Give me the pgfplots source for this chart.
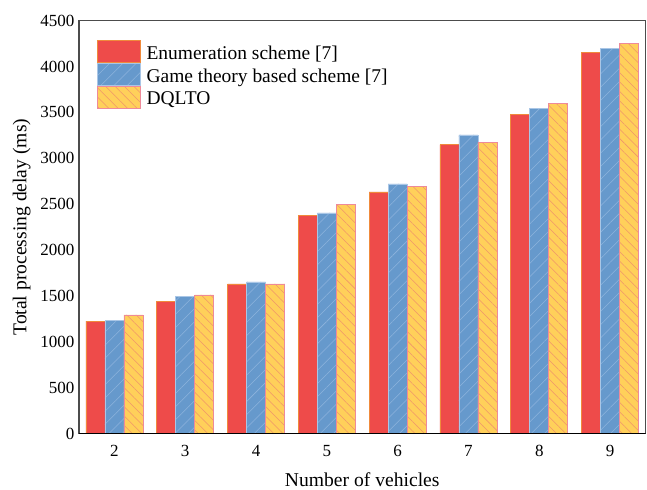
\documentclass[border=0pt]{standalone}
\usepackage{pgfplots}
\pgfplotsset{compat=1.18}
\usepackage{fontspec}
\setmainfont{Liberation Serif}
\usetikzlibrary{patterns.meta}
\definecolor{cred}{HTML}{EE4B4A}
\definecolor{credge}{HTML}{F08A3C}
\definecolor{cblue}{HTML}{6699CC}
\definecolor{cbedge}{HTML}{A9C6E6}
\definecolor{cbline}{HTML}{8DB3DD}
\definecolor{cyel}{HTML}{FFD05A}
\definecolor{cyedge}{HTML}{EE8A9A}
\definecolor{cyline}{HTML}{F0956A}
\pgfplotstableread{
x es gt dq
2 1228 1230 1295
3 1444 1500 1512
4 1632 1654 1632
5 2380 2405 2495
6 2634 2721 2695
7 3148 3254 3174
8 3479 3540 3599
9 4157 4197 4252
}\datatab
\begin{document}
\begin{tikzpicture}
\begin{axis}[
  name=ax,
  scale only axis,
  width=425pt, height=310pt,
  ybar=0pt, bar width=14.25pt,
  xmin=1.5, xmax=9.5, ymin=0, ymax=4500,
  xtick={2,...,9}, ytick={0,500,...,4500},
  major tick length=0pt,
  axis line style={draw=black!70, line width=1pt},
  tick label style={font=\fontsize{12.75}{15}\selectfont},
  xticklabel style={yshift=-5pt},
  /pgf/number format/assume math mode=true,
  /pgf/number format/1000 sep={},
  xlabel={Number of vehicles}, ylabel={Total processing delay (ms)},
  label style={font=\fontsize{14.7}{17}\selectfont},
  xlabel style={at={(axis description cs:0.5,0)}, anchor=north, yshift=-26pt},
  ylabel style={at={(axis description cs:0,0.5)}, anchor=center, yshift=43pt},
  legend style={draw=none, fill=none, at={(rel axis cs:0,1)}, anchor=north west, xshift=13.5pt, yshift=-14.6pt,
    font=\fontsize{14.6}{17}\selectfont, row sep=0.8pt, inner sep=0pt,
    nodes={inner sep=0pt, inner xsep=4.5pt}},
  legend cell align=left,
  legend image code/.code={\draw[#1] (0pt,-6.5pt) rectangle (32pt,9.5pt);},
]
\addplot[fill=cred, draw=credge, line width=0.5pt] table[x=x,y=es]{\datatab};
\addplot[fill=cblue, draw=cbedge, line width=0.5pt, postaction={pattern={Lines[angle=45,distance=7pt,line width=0.4pt]}, pattern color=cbline}] table[x=x,y=gt]{\datatab};
\addplot[fill=cyel, draw=cyedge, line width=0.5pt, postaction={pattern={Lines[angle=-45,distance=5pt,line width=0.4pt]}, pattern color=cyline}] table[x=x,y=dq]{\datatab};
\legend{Enumeration scheme [7], Game theory based scheme [7], DQLTO}
\draw[black, line width=1pt] (rel axis cs:0,0) -- (rel axis cs:1,0);
\end{axis}
\pgfresetboundingbox
\path ([shift={(-59.25pt,-42pt)}]ax.south west) rectangle ([shift={(1.1pt,15.4pt)}]ax.north east);
\end{tikzpicture}
\end{document}
